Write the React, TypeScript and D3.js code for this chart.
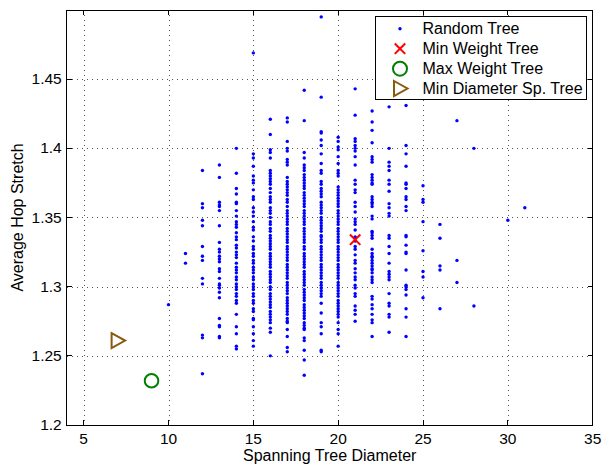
import React from 'react';
import * as d3 from 'd3';

const xTicks = [5, 10, 15, 20, 25, 30, 35];
const yTicks = [1.2, 1.25, 1.3, 1.35, 1.4, 1.45];
const xGrid = [5, 10, 15, 20, 25, 30];
const yGrid = [1.25, 1.3, 1.35, 1.4, 1.45];

const d10 = [1.287];
const d11 = [1.324, 1.317];
const d12 = [1.384, 1.360, 1.357, 1.348, 1.344, 1.329, 1.322, 1.319, 1.306, 1.302, 1.265, 1.263, 1.237];
const d13 = [1.388, 1.379, 1.361, 1.359, 1.358, 1.355, 1.344, 1.332, 1.327, 1.325, 1.322, 1.320, 1.318, 1.313, 1.311, 1.306, 1.302, 1.301, 1.299, 1.296, 1.292, 1.277, 1.272, 1.271, 1.264, 1.263];
const d14 = [1.400, 1.382, 1.371, 1.367, 1.361, 1.360, 1.355, 1.351, 1.347, 1.345, 1.343, 1.339, 1.336, 1.334, 1.330, 1.328, 1.325, 1.323, 1.321, 1.317, 1.314, 1.312, 1.310, 1.307, 1.305, 1.302, 1.300, 1.298, 1.295, 1.293, 1.290, 1.288, 1.280, 1.271, 1.266, 1.257, 1.255];
const d15 = [1.469, 1.396, 1.393, 1.387, 1.380, 1.377, 1.375, 1.370, 1.365, 1.363, 1.357, 1.354, 1.351, 1.347, 1.343, 1.341, 1.336, 1.333, 1.329, 1.327, 1.324, 1.322, 1.319, 1.317, 1.314, 1.312, 1.310, 1.307, 1.305, 1.302, 1.300, 1.298, 1.295, 1.293, 1.290, 1.288, 1.284, 1.282, 1.277, 1.276, 1.271, 1.266, 1.261, 1.257];
const d16 = [1.421, 1.410, 1.399, 1.397, 1.393, 1.384, 1.382, 1.380, 1.378, 1.376, 1.374, 1.371, 1.368, 1.365, 1.363, 1.361, 1.357, 1.355, 1.353, 1.350, 1.347, 1.345, 1.342, 1.340, 1.337, 1.335, 1.333, 1.331, 1.329, 1.327, 1.324, 1.322, 1.320, 1.318, 1.316, 1.314, 1.311, 1.309, 1.307, 1.305, 1.303, 1.300, 1.298, 1.295, 1.293, 1.291, 1.289, 1.287, 1.285, 1.282, 1.280, 1.278, 1.276, 1.274, 1.270, 1.267, 1.250];
const d17 = [1.422, 1.419, 1.405, 1.400, 1.398, 1.392, 1.390, 1.388, 1.379, 1.376, 1.374, 1.372, 1.370, 1.368, 1.366, 1.363, 1.361, 1.358, 1.355, 1.353, 1.351, 1.349, 1.347, 1.345, 1.342, 1.340, 1.338, 1.336, 1.334, 1.332, 1.329, 1.327, 1.325, 1.323, 1.321, 1.319, 1.316, 1.314, 1.312, 1.310, 1.308, 1.306, 1.303, 1.301, 1.299, 1.297, 1.295, 1.292, 1.290, 1.288, 1.286, 1.284, 1.282, 1.280, 1.277, 1.275, 1.274, 1.269, 1.264, 1.256, 1.253];
const d18 = [1.442, 1.420, 1.397, 1.393, 1.388, 1.386, 1.384, 1.381, 1.379, 1.377, 1.375, 1.373, 1.371, 1.368, 1.366, 1.364, 1.362, 1.360, 1.358, 1.355, 1.353, 1.351, 1.349, 1.347, 1.345, 1.342, 1.340, 1.338, 1.336, 1.334, 1.332, 1.329, 1.327, 1.324, 1.322, 1.320, 1.318, 1.316, 1.314, 1.311, 1.309, 1.307, 1.305, 1.303, 1.301, 1.298, 1.296, 1.294, 1.292, 1.290, 1.287, 1.285, 1.283, 1.281, 1.279, 1.277, 1.274, 1.272, 1.270, 1.269, 1.263, 1.261, 1.254, 1.247, 1.236];
const d19 = [1.495, 1.437, 1.412, 1.411, 1.406, 1.402, 1.396, 1.389, 1.384, 1.382, 1.376, 1.374, 1.371, 1.369, 1.367, 1.365, 1.361, 1.359, 1.357, 1.355, 1.353, 1.350, 1.348, 1.346, 1.344, 1.342, 1.340, 1.337, 1.336, 1.334, 1.332, 1.329, 1.327, 1.325, 1.323, 1.321, 1.319, 1.316, 1.314, 1.312, 1.310, 1.308, 1.306, 1.303, 1.301, 1.299, 1.297, 1.295, 1.293, 1.288, 1.281, 1.274, 1.271, 1.266, 1.254, 1.253];
const d20 = [1.408, 1.405, 1.401, 1.399, 1.394, 1.389, 1.384, 1.382, 1.380, 1.372, 1.370, 1.368, 1.366, 1.364, 1.362, 1.360, 1.358, 1.355, 1.353, 1.351, 1.349, 1.347, 1.345, 1.342, 1.340, 1.338, 1.336, 1.334, 1.332, 1.329, 1.327, 1.325, 1.323, 1.321, 1.319, 1.316, 1.314, 1.312, 1.310, 1.308, 1.306, 1.303, 1.301, 1.299, 1.297, 1.295, 1.293, 1.290, 1.288, 1.286, 1.284, 1.282, 1.280, 1.278, 1.274, 1.269, 1.266, 1.257];
const d21 = [1.443, 1.424, 1.407, 1.405, 1.402, 1.400, 1.398, 1.394, 1.388, 1.377, 1.374, 1.370, 1.368, 1.361, 1.358, 1.354, 1.349, 1.347, 1.345, 1.341, 1.336, 1.333, 1.329, 1.327, 1.323, 1.319, 1.317, 1.313, 1.310, 1.307, 1.305, 1.301, 1.299, 1.295, 1.293, 1.286, 1.283, 1.280, 1.275];
const d22 = [1.427, 1.419, 1.413, 1.404, 1.394, 1.392, 1.390, 1.381, 1.379, 1.377, 1.375, 1.374, 1.365, 1.363, 1.361, 1.360, 1.358, 1.351, 1.349, 1.340, 1.339, 1.337, 1.335, 1.327, 1.324, 1.322, 1.321, 1.319, 1.317, 1.315, 1.313, 1.312, 1.310, 1.307, 1.305, 1.303, 1.293, 1.291, 1.287, 1.284, 1.280, 1.276, 1.274, 1.264];
const d23 = [1.430, 1.400, 1.390, 1.387, 1.384, 1.377, 1.374, 1.369, 1.360, 1.357, 1.353, 1.351, 1.337, 1.335, 1.329, 1.324, 1.317, 1.311, 1.309, 1.307, 1.305, 1.295, 1.288, 1.286, 1.280, 1.278, 1.267];
const d24 = [1.431, 1.402, 1.396, 1.387, 1.375, 1.374, 1.371, 1.365, 1.363, 1.358, 1.355, 1.337, 1.336, 1.330, 1.325, 1.324, 1.312, 1.301, 1.300, 1.298, 1.294, 1.284, 1.278, 1.264];
const d25 = [1.373, 1.363, 1.361, 1.347, 1.326, 1.311, 1.307, 1.292];
const d26 = [1.345, 1.335, 1.315, 1.312, 1.284];
const d27 = [1.420, 1.319, 1.303];
const d28 = [1.400, 1.286];
const d30 = [1.348];
const d31 = [1.357];

const randomTree: [number, number[]][] = [
  [10, d10], [11, d11], [12, d12], [13, d13], [14, d14], [15, d15], [16, d16],
  [17, d17], [18, d18], [19, d19], [20, d20], [21, d21], [22, d22], [23, d23],
  [24, d24], [25, d25], [26, d26], [27, d27], [28, d28], [30, d30], [31, d31],
];

const minWeightTree = { d: 21, s: 1.334 };
const maxWeightTree = { d: 9, s: 1.232 };
const minDiameterTree = { d: 7, s: 1.261 };

const W = 602;
const H = 466;
const L = 66.7, R = 592.7, T = 10, B = 425;
const FONT = '"Liberation Sans", Arial, Helvetica, sans-serif';
const BLUE = '#0000ff';
const RED = '#ff0000';
const GREEN = '#008000';
const BROWN = '#8a5a0c';
const DOT_R = 1.7;

function Cross({ x, y, s = 4.5 }: { x: number; y: number; s?: number }) {
  return (
    <g stroke={RED} strokeWidth={2} strokeLinecap="square">
      <line x1={x - s} y1={y - s} x2={x + s} y2={y + s} />
      <line x1={x - s} y1={y + s} x2={x + s} y2={y - s} />
    </g>
  );
}

function Tri({ x, y }: { x: number; y: number }) {
  const p = `${x - 6},${y - 7.5} ${x + 7.5},${y} ${x - 6},${y + 7.5}`;
  return <polygon points={p} fill="none" stroke={BROWN} strokeWidth={2} strokeLinejoin="miter" />;
}

export default function App() {
  const x = d3.scaleLinear().domain([4, 35]).range([L, R]);
  const y = d3.scaleLinear().domain([1.2, 1.5]).range([B, T]);
  const pts: { d: number; s: number }[] = [];
  randomTree.forEach(([d, arr]) => arr.forEach((s) => pts.push({ d, s })));

  const legendRows = [28.7, 48.7, 68.7, 88.5];
  const lx = 400;

  return (
    <svg width={W} height={H} style={{ position: 'absolute', left: 0, top: 0, background: '#fff' }} fontFamily={FONT}>
      <rect x={0} y={0} width={W} height={H} fill="#fff" />
      {/* grid */}
      <g stroke="#555" strokeWidth={1} strokeDasharray="1,4" shapeRendering="crispEdges">
        {xGrid.map((t) => (
          <line key={'gx' + t} x1={Math.round(x(t)) + 0.5} x2={Math.round(x(t)) + 0.5} y1={T} y2={B} />
        ))}
        {yGrid.map((t) => (
          <line key={'gy' + t} x1={L} x2={R} y1={Math.round(y(t)) + 0.5} y2={Math.round(y(t)) + 0.5} />
        ))}
      </g>
      {/* points */}
      <g fill={BLUE}>
        {pts.map((p, i) => (
          <circle key={i} cx={x(p.d)} cy={y(p.s)} r={DOT_R} />
        ))}
      </g>
      {/* special markers */}
      <Cross x={x(minWeightTree.d)} y={y(minWeightTree.s)} />
      <circle cx={x(maxWeightTree.d)} cy={y(maxWeightTree.s)} r={6.8} fill="none" stroke={GREEN} strokeWidth={2} />
      <Tri x={x(minDiameterTree.d)} y={y(minDiameterTree.s)} />
      {/* axes box & ticks */}
      <g stroke="#000" strokeWidth={1} shapeRendering="crispEdges">
        <rect x={L} y={T} width={R - L} height={B - T} fill="none" />
        {xTicks.map((t) => (
          <g key={'tx' + t}>
            <line x1={x(t)} x2={x(t)} y1={B} y2={B - 5} />
            <line x1={x(t)} x2={x(t)} y1={T} y2={T + 5} />
          </g>
        ))}
        {yTicks.map((t) => (
          <g key={'ty' + t}>
            <line x1={L} x2={L + 5} y1={y(t)} y2={y(t)} />
            <line x1={R} x2={R - 5} y1={y(t)} y2={y(t)} />
          </g>
        ))}
      </g>
      {/* tick labels */}
      <g fontSize={15.5} fill="#000">
        {xTicks.map((t) => (
          <text key={'lx' + t} x={x(t)} y={B + 18.5} textAnchor="middle">{t}</text>
        ))}
        {yTicks.map((t) => (
          <text key={'ly' + t} x={L - 5} y={y(t) + 5} textAnchor="end">{t}</text>
        ))}
      </g>
      <text x={(L + R) / 2} y={461} textAnchor="middle" fontSize={16}>Spanning Tree Diameter</text>
      <text transform={`translate(23,${(T + B) / 2}) rotate(-90)`} textAnchor="middle" fontSize={16}>Average Hop Stretch</text>
      {/* legend */}
      <g>
        <rect x={375.5} y={16.5} width={211} height={83} fill="#fff" stroke="#000" strokeWidth={1} />
        <circle cx={lx} cy={legendRows[0]} r={DOT_R} fill={BLUE} />
        <Cross x={lx} y={legendRows[1]} />
        <circle cx={lx} cy={legendRows[2]} r={7} fill="none" stroke={GREEN} strokeWidth={2} />
        <Tri x={lx} y={legendRows[3]} />
        {['Random Tree', 'Min Weight Tree', 'Max Weight Tree', 'Min Diameter Sp. Tree'].map((s, i) => (
          <text key={s} x={422.5} y={legendRows[i] + 5.5} fontSize={16}>{s}</text>
        ))}
      </g>
    </svg>
  );
}
